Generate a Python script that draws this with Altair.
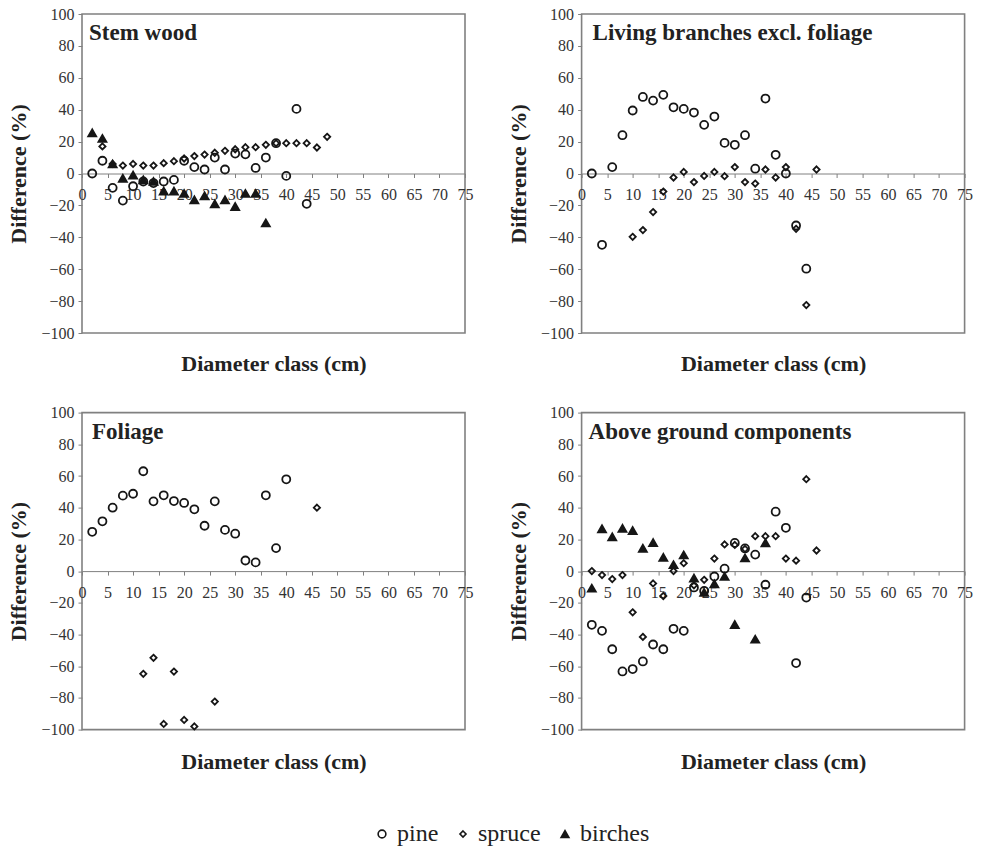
import altair as alt
import pandas as pd

FONT = "Liberation Serif"
SPECIES = ["pine", "spruce", "birches"]
X_TICKS = list(range(0, 80, 5))
Y_TICKS = list(range(-100, 120, 20))

# ---- Stem wood ----
sw_pine_x = [2, 4, 6, 8, 10, 12, 14, 16, 18, 20, 22, 24, 26, 28, 30, 32, 34, 36, 38, 40, 42, 44]
sw_pine_y = [0, 8, -9, -17, -8, -5, -6, -5, -4, 8, 4, 2.5, 10, 2.5, 12.5, 12, 3.5, 10, 19, -1.5, 40.5, -19]
sw_spruce_x = [4, 6, 8, 10, 12, 14, 16, 18, 20, 22, 24, 26, 28, 30, 32, 34, 36, 38, 40, 42, 44, 46, 48]
sw_spruce_y = [17, 6, 5, 6, 5, 5, 6.5, 7.7, 9.4, 10.9, 11.9, 13, 14.2, 15.2, 16.5, 16.5, 18, 19, 19, 19, 19, 16.3, 23]
sw_birch_x = [2, 4, 6, 8, 10, 12, 14, 16, 18, 20, 22, 24, 26, 28, 30, 32, 34, 36]
sw_birch_y = [25.5, 22, 6, -3, -1, -4, -5, -11, -11, -12.5, -16.5, -14, -19, -16.5, -20.7, -12.5, -12.5, -31]

# ---- Living branches excl. foliage ----
lb_pine_x = [2, 4, 6, 8, 10, 12, 14, 16, 18, 20, 22, 24, 26, 28, 30, 32, 34, 36, 38, 40, 42, 44]
lb_pine_y = [0, -44.7, 4, 24, 39.5, 48, 45.7, 49.3, 41.5, 40.5, 38.2, 30.5, 35.7, 19.2, 18, 24, 3, 47, 11.7, 0, -32.6, -59.7]
lb_spruce_x = [10, 12, 14, 16, 18, 20, 22, 24, 26, 28, 30, 32, 34, 36, 38, 40, 42, 44, 46]
lb_spruce_y = [-39.7, -35.5, -24.2, -11.3, -2.5, 1, -5.4, -1.5, 1, -1.7, 4, -5.4, -6.3, 2.5, -2.5, 4, -34.7, -82.5, 2.5]

# ---- Foliage ----
fo_pine_x = [2, 4, 6, 8, 10, 12, 14, 16, 18, 20, 22, 24, 26, 28, 30, 32, 34, 36, 38, 40]
fo_pine_y = [24.8, 31.4, 40, 47.6, 48.8, 63, 44, 47.8, 44.2, 43, 39, 28.6, 44, 26, 23.6, 6.7, 5.5, 47.8, 14.5, 57.9]
fo_spruce_x = [12, 14, 16, 18, 20, 22, 26, 46]
fo_spruce_y = [-64.8, -54.7, -96.4, -63.4, -93.9, -98, -82.3, 40]

# ---- Above ground components ----
ag_pine_x = [2, 4, 6, 8, 10, 12, 14, 16, 18, 20, 22, 24, 26, 28, 30, 32, 34, 36, 38, 40, 42, 44]
ag_pine_y = [-33.9, -37.7, -49.3, -63.3, -61.8, -57, -46.3, -49.3, -36.4, -37.7, -10.3, -12.5, -3.4, 1.5, 17.8, 14.3, 10.4, -8.6, 37.5, 27.3, -58, -16.7]
ag_spruce_x = [2, 4, 6, 8, 10, 12, 14, 16, 18, 20, 22, 24, 26, 28, 30, 32, 34, 36, 38, 40, 42, 44, 46]
ag_spruce_y = [0, -2.5, -5, -2.5, -26, -41.5, -7.8, -15.7, 0, 5, -9, -5.5, 7.9, 16.8, 16.5, 14, 22, 22, 22, 7.9, 6.6, 58, 13]
ag_birch_x = [2, 4, 6, 8, 10, 12, 14, 16, 18, 20, 22, 24, 26, 28, 30, 32, 34, 36]
ag_birch_y = [-10.8, 26.7, 21.6, 27, 25.6, 14.4, 18, 8.7, 4, 10.2, -4.4, -13.5, -8, -3.4, -33.7, 8.3, -43, 17.8]

DIAMOND = "M0,-0.78L0.78,0L0,0.78L-0.78,0Z"
INK = "#161616"
GRAY = "#808080"


def table(series):
    rows = []
    for sp, xs, ys in series:
        rows += [{"dbh": x, "diff": y, "species": sp} for x, y in zip(xs, ys)]
    return pd.DataFrame(rows)


def panel(title, series, h, title_dx, legend):
    df = table(series)
    xaxis = alt.Axis(values=X_TICKS, offset=-h / 2, title="Diameter class (cm)", titleY=180,
                     labelFlush=False, labelOverlap=False, grid=False, tickSize=4,
                     labelPadding=9, domainColor=GRAY, tickColor=GRAY)
    yaxis = alt.Axis(values=Y_TICKS, title="Difference (%)", grid=False, domain=False,
                     tickSize=4, labelPadding=4, titlePadding=10, tickColor=GRAY)
    shape = alt.Shape("species:N", scale=alt.Scale(domain=SPECIES, range=["circle", DIAMOND, "triangle-up"]),
                      legend=legend)
    fill = alt.Fill("species:N", scale=alt.Scale(domain=SPECIES, range=["transparent", "transparent", INK]),
                    legend=legend)
    stroke = alt.Stroke("species:N", scale=alt.Scale(domain=SPECIES, range=[INK, INK, INK]),
                        legend=legend)
    pts = alt.Chart(df).mark_point(filled=True, strokeWidth=1.8, size=64, opacity=1).encode(
        x=alt.X("dbh:Q", scale=alt.Scale(domain=[0, 75], nice=False, zero=False), axis=xaxis),
        y=alt.Y("diff:Q", scale=alt.Scale(domain=[-100, 100], nice=False), axis=yaxis),
        shape=shape, fill=fill, stroke=stroke)
    lbl = alt.Chart(pd.DataFrame({"t": [title]})).mark_text(
        align="left", baseline="alphabetic", font=FONT, fontSize=23, fontWeight="bold", color="#222"
    ).encode(x=alt.value(title_dx), y=alt.value(26), text="t:N")
    return alt.layer(pts, lbl).properties(width=383, height=h)


legend = alt.Legend(orient="none", legendX=288, legendY=808, direction="horizontal", title=None,
                    labelFont=FONT, labelFontSize=24, labelColor="#222", symbolSize=60,
                    symbolStrokeWidth=1.6, symbolStrokeColor=INK, columnPadding=12, labelOffset=3)

p1 = panel("Stem wood", [("pine", sw_pine_x, sw_pine_y), ("spruce", sw_spruce_x, sw_spruce_y),
                         ("birches", sw_birch_x, sw_birch_y)], 319, 7, legend)
p2 = panel("Living branches excl. foliage", [("pine", lb_pine_x, lb_pine_y),
                                             ("spruce", lb_spruce_x, lb_spruce_y)], 319, 11, None)
p3 = panel("Foliage", [("pine", fo_pine_x, fo_pine_y), ("spruce", fo_spruce_x, fo_spruce_y)], 317, 10, None)
p4 = panel("Above ground components", [("pine", ag_pine_x, ag_pine_y), ("spruce", ag_spruce_x, ag_spruce_y),
                                       ("birches", ag_birch_x, ag_birch_y)], 317, 7, None)

chart = alt.concat(
    p1, p2, p3, p4, columns=2, spacing=alt.RowColnumber(row=79.6, column=116.6), bounds="flush"
).resolve_scale(shape="shared", fill="shared", stroke="shared").properties(
    padding={"left": 7, "top": 5, "right": 5, "bottom": 5}, background="white"
).configure(font=FONT).configure_view(stroke=GRAY, strokeWidth=1.6).configure_axis(
    labelFont=FONT, labelFontSize=16, labelColor="#333", titleFont=FONT, titleFontSize=22,
    titleFontWeight="bold", titleColor="#222"
)

chart.save("out.html", embed_options={"renderer": "svg", "actions": False})
